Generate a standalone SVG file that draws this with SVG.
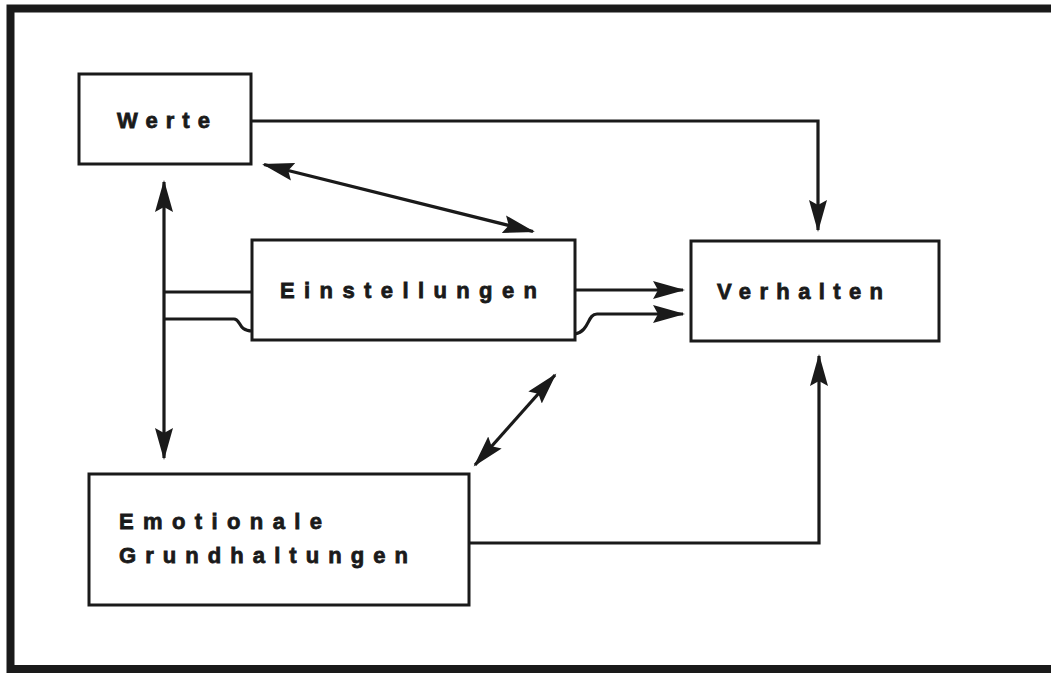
<svg xmlns="http://www.w3.org/2000/svg" width="1051" height="673" viewBox="0 0 1051 673">
<defs>
<style>
.box{fill:#fff;stroke:#1a1a1a;stroke-width:3}
.lbl{font-family:"Liberation Sans",Arial,sans-serif;font-weight:bold;font-size:22px;fill:#1a1a1a;stroke:#1a1a1a;stroke-width:0.8}
.con{fill:none;stroke:#1a1a1a;stroke-width:3.2}
.arr{marker-end:url(#ah)}
.dbl{marker-start:url(#ah);marker-end:url(#ah)}
</style>
<marker id="ah" markerUnits="userSpaceOnUse" markerWidth="34" markerHeight="20" refX="30" refY="10" orient="auto-start-reverse">
<path d="M0,1 L32,10 L0,19 L5,10 z" fill="#1a1a1a"/>
</marker>
</defs>
<rect width="1051" height="673" fill="#fff"/>
<path d="M1051,8.5 H10.5 V669 H1051" fill="none" stroke="#1a1a1a" stroke-width="8"/>

<g id="connectors">
<path class="con arr" d="M251,121 H818 V230"/>
<path class="con arr" d="M469,543 H819 V356"/>
<line class="con dbl" x1="264" y1="164.5" x2="533" y2="231.5"/>
<line class="con dbl" x1="555" y1="375" x2="475" y2="465"/>
<line class="con dbl" x1="164" y1="182" x2="164" y2="458"/>
<path class="con" d="M164,292 H252"/>
<path class="con" d="M164,319 H234 C241,319 238,331 252,331"/>
<path class="con arr" d="M575,290 H683"/>
<path class="con arr" d="M575,334 C590,331 587,314 597,314 H683"/>
</g>

<g id="werte">
<rect class="box" x="79" y="74" width="172" height="90"/>
<text class="lbl" x="117" y="128" textLength="93" lengthAdjust="spacing">Werte</text>
</g>
<g id="einstellungen">
<rect class="box" x="252" y="240" width="323" height="100"/>
<text class="lbl" x="280" y="298" textLength="257" lengthAdjust="spacing">Einstellungen</text>
</g>
<g id="verhalten">
<rect class="box" x="691" y="241" width="248" height="100"/>
<text class="lbl" x="717" y="299" textLength="166" lengthAdjust="spacing">Verhalten</text>
</g>
<g id="emotionale">
<rect class="box" x="89" y="474" width="380" height="131"/>
<text class="lbl" x="119" y="529" textLength="203" lengthAdjust="spacing">Emotionale</text>
<text class="lbl" x="119" y="563" textLength="289" lengthAdjust="spacing">Grundhaltungen</text>
</g>
</svg>
